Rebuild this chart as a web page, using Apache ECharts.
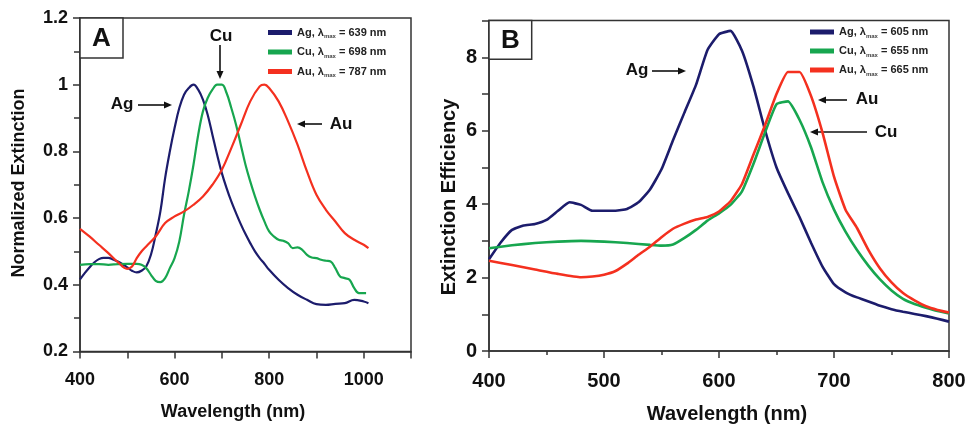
<!DOCTYPE html>
<html><head><meta charset="utf-8">
<script src="https://cdn.jsdelivr.net/npm/echarts@6/dist/echarts.min.js"></script>
<style>html,body{margin:0;padding:0;background:#fff}#c{width:975px;height:425px}</style>
</head><body><div id="c"></div>
<script>
// ---------- Panel A: normalized extinction ----------
const wlA_ag = [400,410,420,430,440,450,460,470,480,490,500,510,520,530,540,550,560,570,580,590,600,610,620,630,640,650,660,670,680,690,700,710,720,730,740,750,760,770,780,790,800,820,840,860,880,900,920,940,960,980,1000,1010];
const agA    = [0.416,0.435,0.452,0.467,0.477,0.481,0.481,0.476,0.47,0.462,0.452,0.442,0.437,0.442,0.455,0.49,0.55,0.62,0.72,0.80,0.87,0.93,0.97,0.99,1.0,0.985,0.955,0.91,0.85,0.79,0.735,0.69,0.65,0.615,0.582,0.552,0.525,0.5,0.48,0.463,0.445,0.415,0.39,0.37,0.355,0.342,0.34,0.343,0.345,0.355,0.35,0.345];
const wlA_cu = [400,420,440,460,480,500,520,530,540,550,560,570,580,590,600,610,620,630,640,650,660,670,680,690,700,710,720,730,740,750,760,770,780,790,800,810,820,830,840,850,860,870,880,890,900,910,920,930,940,950,960,970,980,990,1005];
const cuA    = [0.46,0.462,0.462,0.46,0.462,0.463,0.463,0.46,0.45,0.43,0.412,0.408,0.42,0.45,0.48,0.53,0.61,0.68,0.76,0.85,0.92,0.96,0.985,1.0,1.0,0.975,0.93,0.88,0.82,0.76,0.71,0.665,0.625,0.59,0.56,0.545,0.535,0.532,0.525,0.51,0.512,0.505,0.49,0.482,0.48,0.475,0.472,0.47,0.45,0.425,0.42,0.415,0.39,0.375,0.375];
const wlA_au = [400,420,440,460,480,500,510,520,530,540,560,580,600,620,640,660,680,700,720,740,760,780,790,800,820,840,860,880,900,920,940,960,980,1000,1010];
const auA    = [0.568,0.545,0.52,0.495,0.468,0.448,0.455,0.48,0.5,0.515,0.545,0.585,0.605,0.62,0.64,0.665,0.7,0.745,0.81,0.88,0.95,0.995,1.0,0.99,0.95,0.89,0.82,0.74,0.67,0.625,0.59,0.555,0.535,0.52,0.51];
const lambdaMaxA = {Ag: 639, Cu: 698, Au: 787};

// ---------- Panel B: extinction efficiency ----------
const wlB_ag = [400,410,420,430,440,450,460,470,480,490,500,510,520,530,540,550,560,570,580,590,600,610,620,630,640,650,660,670,680,690,700,710,720,730,740,750,760,770,780,790,800];
const agB    = [2.5,2.95,3.3,3.42,3.46,3.57,3.82,4.05,3.98,3.82,3.82,3.82,3.87,4.05,4.4,4.95,5.74,6.5,7.25,8.2,8.63,8.72,8.18,7.2,6.02,5.0,4.3,3.65,2.95,2.3,1.82,1.6,1.46,1.35,1.23,1.14,1.07,1.01,0.95,0.88,0.8];
const wlB_cu = [400,420,440,460,480,500,520,540,550,560,570,580,590,600,610,620,630,640,650,660,670,680,690,700,710,720,730,740,750,760,770,780,790,800];
const cuB    = [2.8,2.88,2.94,2.98,3.0,2.98,2.94,2.89,2.87,2.9,3.08,3.3,3.55,3.75,3.98,4.35,5.1,5.95,6.72,6.8,6.3,5.55,4.6,3.85,3.25,2.75,2.32,1.95,1.65,1.42,1.28,1.18,1.09,1.02];
const wlB_au = [400,420,440,460,480,490,500,510,520,530,540,550,560,570,580,590,600,610,620,630,640,650,660,670,680,690,700,710,720,730,740,750,760,770,780,790,800];
const auB    = [2.46,2.34,2.22,2.1,2.01,2.03,2.08,2.18,2.38,2.62,2.84,3.1,3.33,3.47,3.58,3.65,3.8,4.08,4.55,5.35,6.15,7.0,7.6,7.6,6.95,5.95,4.75,3.85,3.35,2.75,2.25,1.87,1.58,1.38,1.22,1.12,1.05];
const lambdaMaxB = {Ag: 605, Cu: 655, Au: 665};

// ---------- tick labels ----------
const xLabelsA = [400,600,800,1000];
const yLabelsA = [0.2,0.4,0.6,0.8,1,1.2];
const xLabelsB = [400,500,600,700,800];
const yLabelsB = [0,2,4,6,8];

const colors = {Ag:'#1c1c6c', Cu:'#17a64f', Au:'#f4301f'};
const FONT = '"Liberation Sans", Arial, sans-serif';

function pairs(xs, ys){ return xs.map((x,i)=>[x, ys[i]]); }
function has(arr, v){ return arr.some(a => Math.abs(a - v) < 1e-6); }

const chart = echarts.init(document.getElementById('c'), null, {renderer:'canvas'});

function axisCommon(fs){
  return {
    axisLine:{show:true, onZero:false, lineStyle:{color:'#333', width:1.5}},
    axisTick:{show:true, inside:false, length:7, lineStyle:{color:'#333', width:1.5}},
    splitLine:{show:false},
    axisLabel:{color:'#111', fontWeight:'bold', fontSize:fs, fontFamily:FONT}
  };
}

function legendRich(){
  return {
    b:{fontSize:11, fontWeight:'bold', color:'#222', fontFamily:FONT, lineHeight:14},
    s:{fontSize:6, fontWeight:'bold', color:'#444', fontFamily:FONT, lineHeight:7, verticalAlign:'bottom'}
  };
}

function seriesFor(panel, el, xs, ys, xi, smooth, lw){
  return {
    name: el + '-' + panel, type:'line', xAxisIndex:xi, yAxisIndex:xi,
    data: pairs(xs, ys), showSymbol:false, symbol:'none', smooth: smooth,
    lineStyle:{color:colors[el], width:lw}, itemStyle:{color:colors[el]},
    emphasis:{disabled:true}, animation:false
  };
}

function arrow(x1,y1,x2,y2){
  const dx = x2-x1, dy = y2-y1, L = Math.hypot(dx,dy), ux = dx/L, uy = dy/L;
  const hl = 8, hw = 3.5;
  const bx = x2 - ux*hl, by = y2 - uy*hl;
  return [
    {type:'line', shape:{x1:x1, y1:y1, x2:bx, y2:by}, style:{stroke:'#111', lineWidth:1.6}},
    {type:'polygon', shape:{points:[[x2,y2],[bx - uy*hw, by + ux*hw],[bx + uy*hw, by - ux*hw]]}, style:{fill:'#111'}}
  ];
}
function label(t, x, y, fs){
  return {type:'text', x:x, y:y, style:{text:t, fill:'#111', font:'bold '+fs+'px '+FONT, textAlign:'center', textVerticalAlign:'middle'}};
}

const option = {
  backgroundColor:'#fff',
  animation:false,
  grid:[
    {left:80, top:18, right:564, bottom:73.5, show:true, borderColor:'#333', borderWidth:1.5, backgroundColor:'transparent'},
    {left:489, top:20.6, right:26, bottom:74, show:true, borderColor:'#333', borderWidth:1.5, backgroundColor:'transparent'}
  ],
  xAxis:[
    Object.assign(axisCommon(18), {type:'value', gridIndex:0, min:400, max:1100, interval:100,
      axisLabel:Object.assign(axisCommon(18).axisLabel, {margin:20, formatter:v => has(xLabelsA, v) ? String(v) : ''})}),
    Object.assign(axisCommon(20), {type:'value', gridIndex:1, min:400, max:800, interval:100,
      minorTick:{show:true, splitNumber:2, length:4, lineStyle:{color:'#333', width:1.5}},
      axisLabel:Object.assign(axisCommon(20).axisLabel, {margin:20, formatter:v => has(xLabelsB, v) ? String(v) : ''})})
  ],
  yAxis:[
    Object.assign(axisCommon(18), {type:'value', gridIndex:0, min:0.2, max:1.2, interval:0.2,
      minorTick:{show:true, splitNumber:2, length:6, lineStyle:{color:'#333', width:1.5}},
      axisLabel:Object.assign(axisCommon(18).axisLabel, {margin:12, formatter:v => has(yLabelsA, v) ? String(+v.toFixed(1)) : ''})}),
    Object.assign(axisCommon(20), {type:'value', gridIndex:1, min:0, max:9, interval:1,
      axisLabel:Object.assign(axisCommon(20).axisLabel, {margin:12, formatter:v => has(yLabelsB, v) ? String(v) : ''})})
  ],
  legend:[
    {orient:'vertical', left:268, top:27, padding:0, itemWidth:24, itemHeight:5, itemGap:7, icon:'rect', selectedMode:false,
      data:['Ag-A','Cu-A','Au-A'],
      formatter:n => { const el = n.split('-')[0]; return '{b|' + el + ', λ}{s|max}{b| = ' + lambdaMaxA[el] + ' nm}'; },
      textStyle:{rich:legendRich()}},
    {orient:'vertical', left:810, top:26.5, padding:0, itemWidth:24, itemHeight:5, itemGap:6.5, icon:'rect', selectedMode:false,
      data:['Ag-B','Cu-B','Au-B'],
      formatter:n => { const el = n.split('-')[0]; return '{b|' + el + ', λ}{s|max}{b| = ' + lambdaMaxB[el] + ' nm}'; },
      textStyle:{rich:legendRich()}}
  ],
  series:[
    seriesFor('A','Ag', wlA_ag, agA, 0, 0.4, 2.2),
    seriesFor('A','Cu', wlA_cu, cuA, 0, 0.4, 2.2),
    seriesFor('A','Au', wlA_au, auA, 0, 0.4, 2.2),
    seriesFor('B','Ag', wlB_ag, agB, 1, 0.15, 2.6),
    seriesFor('B','Cu', wlB_cu, cuB, 1, 0.15, 2.6),
    seriesFor('B','Au', wlB_au, auB, 1, 0.15, 2.6)
  ],
  graphic:[
    // panel letters
    {type:'rect', shape:{x:80, y:18, width:43, height:40}, style:{fill:'#fff', stroke:'#333', lineWidth:1.5}, z:10},
    {type:'text', x:101.5, y:39, z:11, style:{text:'A', fill:'#111', font:'bold 26px '+FONT, textAlign:'center', textVerticalAlign:'middle'}},
    {type:'rect', shape:{x:489, y:20.6, width:42.7, height:38.7}, style:{fill:'#fff', stroke:'#333', lineWidth:1.5}, z:10},
    {type:'text', x:510.5, y:41, z:11, style:{text:'B', fill:'#111', font:'bold 26px '+FONT, textAlign:'center', textVerticalAlign:'middle'}},
    // axis titles
    {type:'text', x:19, y:183, rotation:Math.PI/2, style:{text:'Normalized Extinction', fill:'#111', font:'bold 18px '+FONT, textAlign:'center', textVerticalAlign:'middle'}},
    {type:'text', x:233, y:412, style:{text:'Wavelength (nm)', fill:'#111', font:'bold 18px '+FONT, textAlign:'center', textVerticalAlign:'middle'}},
    {type:'text', x:449, y:197, rotation:Math.PI/2, style:{text:'Extinction Efficiency', fill:'#111', font:'bold 20px '+FONT, textAlign:'center', textVerticalAlign:'middle'}},
    {type:'text', x:727, y:414, style:{text:'Wavelength (nm)', fill:'#111', font:'bold 20px '+FONT, textAlign:'center', textVerticalAlign:'middle'}},
    // annotations A
    label('Ag', 122, 104, 17), ...arrow(138,105,172,105),
    label('Cu', 221, 36, 17), ...arrow(220,45,220,79),
    label('Au', 341, 124, 17), ...arrow(322,124,297,124),
    // annotations B
    label('Ag', 637, 70, 17), ...arrow(652,71,686,71),
    label('Au', 867, 99, 17), ...arrow(847,100,818,100),
    label('Cu', 886, 132, 17), ...arrow(867,132,810,132)
  ]
};
chart.setOption(option);
</script>
</body></html>
